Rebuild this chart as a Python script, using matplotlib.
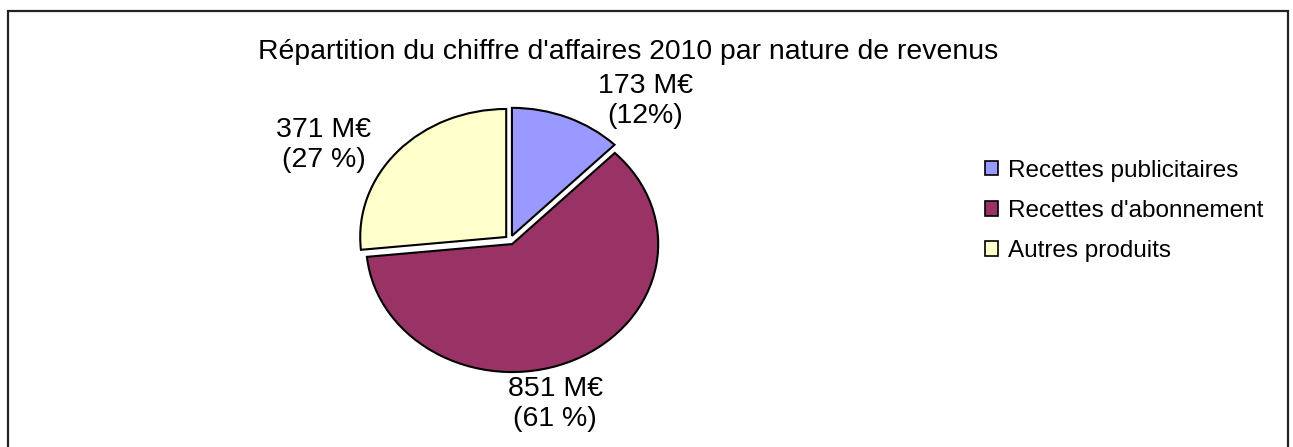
import matplotlib
matplotlib.use("Agg")
import matplotlib.pyplot as plt
from matplotlib.patches import Rectangle, Patch

plt.rcParams['font.family'] = ['Liberation Sans', 'DejaVu Sans']

categories = ["Recettes publicitaires", "Recettes d'abonnement", "Autres produits"]
values = [173, 851, 371]
value_labels = ["173 M€\n(12%)", "851 M€\n(61 %)", "371 M€\n(27 %)"]
colors = ["#9999FF", "#993366", "#FFFFCC"]
title = "Répartition du chiffre d'affaires 2010 par nature de revenus"

W, H = 1293, 447
fig = plt.figure(figsize=(W / 100, H / 100), dpi=100)

# outer frame (bottom edge falls outside the image)
fig.patches.append(Rectangle((8 / W, -0.05), 1280 / W, (H - 11) / H + 0.05,
                             transform=fig.transFigure, fill=False,
                             edgecolor="#222222", linewidth=1.6))

fig.text(628 / W, 1 - 59 / H, title, ha="center", va="baseline", fontsize=20.4)

cx, cy, rx, ry = 510, 240, 146, 128
ax = fig.add_axes([(cx - rx) / W, (H - cy - ry) / H, 2 * rx / W, 2 * ry / H])
wedges, _ = ax.pie(values, colors=colors, startangle=90, counterclock=False,
                   explode=[0.035, 0.035, 0.035],
                   wedgeprops=dict(edgecolor="black", linewidth=1.5))
ax.set_aspect("auto")
ax.set_xlim(-1.0, 1.0)
ax.set_ylim(-1.0, 1.0)
ax.axis("off")

label_pos = [(645, 101), (555, 404), (324, 145)]
for (px, py), txt in zip(label_pos, value_labels):
    fig.text(px / W, 1 - py / H, txt, ha="center", va="center",
             fontsize=20.5, linespacing=1.2)

handles = [Patch(facecolor=c, edgecolor="black", linewidth=1.2) for c in colors]
fig.legend(handles, categories, loc="center left",
           bbox_to_anchor=(963 / W, 1 - 211 / H), frameon=False,
           fontsize=17.5, handlelength=0.55, handleheight=0.55,
           handletextpad=0.4, labelspacing=0.75)

fig.savefig("out.png", dpi=100)
